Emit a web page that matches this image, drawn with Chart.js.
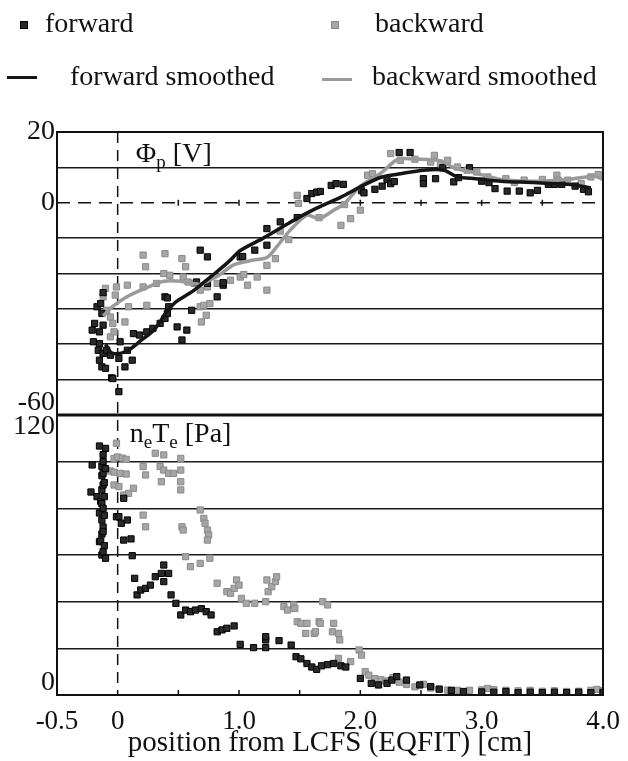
<!DOCTYPE html>
<html lang="en">
<head>
<meta charset="UTF-8">
<title>Plasma potential and pressure vs. position from LCFS</title>
<script src="https://cdn.jsdelivr.net/npm/chart.js"></script>
<style>
  body { margin: 0; background: #fff; font-family: "Liberation Serif", "Times New Roman", serif; color: #111; }
  #wrap { position: relative; width: 628px; height: 761px; }
  #chart { position: absolute; left: 0; top: 0; }
  .leg { position: absolute; font-size: 28px; line-height: 28px; white-space: nowrap; }
  .mark { position: absolute; }
</style>
</head>
<body>
<div id="wrap">
  <canvas id="chart" width="628" height="761"></canvas>
  <div id="legend"></div>
</div>
<script>
// x ticks and labelled y values
var xTicks = [-0.5, 0, 1, 2, 3, 4];
var phiLabels = [20, 0, -60];
var pLabels = [120, 0];

// plasma potential Phi_p [V] vs position [cm]
var phiForward = [
  [-0.21,-36],[-0.20,-39.3],[-0.19,-34.1],[-0.17,-29.4],[-0.16,-41.7],[-0.15,-36.5],[-0.15,-39.8],
  [-0.15,-44.5],[-0.14,-28.5],[-0.13,-31.3],[-0.13,-46.4],[-0.12,-25.4],[-0.12,-34.6],[-0.12,-42.6],
  [-0.10,-46.8],[-0.09,-41.7],[-0.06,-43.1],[-0.05,-49.5],[-0.04,-49.7],[0.01,-53.4],[0.01,-44],
  [0.02,-39.3],[0.06,-46.4],[0.08,-41.7],[0.12,-44.5],[0.13,-37],[0.18,-37.4],[0.24,-36.5],
  [0.29,-35.5],[0.35,-34.1],[0.39,-32.7],[0.41,-31.3],[0.42,-29.4],[0.39,-26.6],[0.41,-26.9],
  [0.49,-35.1],[0.53,-38.8],[0.57,-36],[0.61,-30.4],[0.65,-22.4],[0.68,-13.4],[0.74,-15.3],
  [0.74,-22.8],[0.82,-26.6],[0.87,-23.3],[0.87,-22.6],[1.01,-15.3],[1.03,-15.2],[1.13,-13.4],
  [1.23,-7.3],[1.23,-12],[1.34,-5.4],[1.48,-4.2],[1.56,1.2],[1.60,2.6],[1.64,3.0],[1.67,3.2],
  [1.76,4.9],[1.80,5.4],[1.86,5.2],[2.01,3.4],[2.03,2.8],[2.12,3.8],[2.18,4.7],[2.22,6.6],
  [2.25,5.4],[2.28,6.0],[2.32,14.2],[2.41,14.2],[2.52,6.8],[2.52,5.4],[2.62,6.8],[2.68,9.9],
  [2.77,5.9],[2.81,7.1],[2.90,9.9],[3.00,6.1],[3.06,5.7],[3.11,4.0],[3.21,3.3],[3.31,3.3],
  [3.40,2.8],[3.46,3.5],[3.55,5.2],[3.60,5.2],[3.66,5.2],[3.77,4.7],[3.84,3.8],[3.88,3.1]
];
var phiBackward = [
  [-0.12,-26.6],[-0.10,-24.2],[-0.10,-41.7],[-0.09,-30.4],[-0.09,-42.6],[-0.06,-32.3],[-0.06,-37.9],
  [-0.04,-34.1],[-0.03,-36.5],[-0.02,-26.1],[-0.01,-23.8],[0.06,-33.7],[0.08,-23.3],[0.09,-29.4],
  [0.21,-14.8],[0.23,-18.1],[0.21,-23.8],[0.24,-29],[0.32,-22.8],[0.38,-20],[0.39,-14.4],
  [0.43,-20.5],[0.53,-15.8],[0.54,-21],[0.56,-18.1],[0.58,-22.4],[0.63,-22.8],[0.68,-24.7],
  [0.68,-29.4],[0.69,-33.7],[0.71,-29],[0.73,-31.8],[0.74,-23.8],[0.76,-28.5],[0.82,-22.8],
  [0.93,-21.9],[1.01,-21],[1.04,-20.3],[1.07,-23.3],[1.15,-21],[1.23,-24.7],[1.23,-17.7],
  [1.30,-15.8],[1.34,-8],[1.41,-10.4],[1.48,2.1],[1.49,-0.2],[1.66,-4.2],[1.84,-6.4],
  [1.87,-0.5],[1.92,-4.5],[2.00,-2.1],[2.06,7.8],[2.10,8.2],[2.25,13.9],[2.33,12],[2.45,12.3],
  [2.58,11.5],[2.61,13.4],[2.66,11],[2.72,12],[2.80,10.1],[2.88,9.2],[2.96,8.7],[3.05,7.3],
  [3.20,6.8],[3.27,5.7],[3.35,6.4],[3.50,6.6],[3.62,7.8],[3.63,6.4],[3.71,6.4],[3.82,5.4],
  [3.90,7.3],[3.96,8.0]
];
var phiForwardSmooth = [
  [-0.10,-40],[-0.05,-42.5],[0.03,-42.5],[0.10,-41.5],[0.19,-39],[0.30,-36],[0.40,-31],
  [0.48,-28],[0.62,-25],[0.80,-20],[0.92,-16.5],[1.01,-13.5],[1.20,-10],[1.37,-6.6],[1.50,-4],
  [1.64,-1.5],[1.84,1.6],[2.00,4.5],[2.17,7.2],[2.33,8.2],[2.52,9.2],[2.69,9.2],[2.80,7.3],
  [2.95,6.8],[3.16,6.1],[3.43,5.7],[3.71,5.2],[3.90,4.2]
];
var phiBackwardSmooth = [
  [-0.12,-32],[-0.04,-29.3],[0.08,-26.5],[0.24,-24],[0.38,-22.2],[0.52,-22.2],[0.68,-23],
  [0.82,-20.8],[0.96,-17.5],[1.12,-16.2],[1.23,-15.5],[1.31,-12.5],[1.42,-7.8],[1.56,-3.5],
  [1.66,-4.5],[1.78,-2.1],[1.87,-0.2],[2.00,4.7],[2.17,8.4],[2.31,12.3],[2.47,12.3],
  [2.67,11.8],[2.77,9.9],[2.94,8.5],[3.16,6.6],[3.43,6.1],[3.71,6.6],[3.93,7.5],[4.00,6.6]
];

// pressure n_e T_e [Pa] vs position [cm]
var pForward = [
  [-0.22,87],[-0.21,98.6],[-0.17,85],[-0.15,106.7],[-0.15,78],[-0.15,65.7],[-0.14,83],[-0.14,66],
  [-0.13,98],[-0.13,94],[-0.13,88],[-0.13,82],[-0.13,75],[-0.13,69],[-0.13,60],[-0.12,103],
  [-0.12,100],[-0.12,95],[-0.12,90],[-0.12,80],[-0.12,72],[-0.12,70],[-0.12,61.4],[-0.11,91],
  [-0.11,85],[-0.11,77],[-0.11,64],[-0.10,105.7],[-0.10,97],[-0.10,58.6],
  [-0.01,76.4],[0.01,76.4],[0.03,73.6],[0.05,84.3],[0.05,66.4],[0.08,75],[0.11,66.9],[0.12,59.7],
  [0.14,50],[0.16,42.9],[0.19,45],[0.23,45.7],[0.27,47.1],[0.31,50.7],[0.36,52.1],[0.38,55.7],
  [0.38,48.6],[0.42,52.1],[0.44,42.9],[0.48,39.3],[0.52,34.3],[0.56,36.4],[0.60,35.7],[0.64,36.4],
  [0.69,37],[0.73,35.7],[0.77,34.3],[0.82,27.1],[0.86,27.9],[0.90,28.6],[0.96,29.6],[1.01,21.7],
  [1.12,20.3],[1.22,20.3],[1.22,23.6],[1.22,25],[1.33,23.3],[1.43,21.4],[1.47,16.4],[1.51,15.5],
  [1.56,13.5],[1.60,12],[1.64,11],[1.68,12.5],[1.73,13],[1.78,13.5],[1.84,12.5],[1.88,12],
  [2.00,7.1],[2.09,5],[2.15,4.3],[2.22,5],[2.26,6.4],[2.30,7.9],[2.38,6.4],[2.49,4.3],[2.58,3.6],
  [2.65,2.5],[2.75,2],[2.85,1.5],[3.00,1.3],[3.10,1.2],[3.20,1.5],[3.30,1],[3.40,1.2],[3.50,1],
  [3.60,1.2],[3.70,1],[3.80,1.2],[3.90,1],[4.00,1.1]
];
var pBackward = [
  [-0.06,96],[-0.03,101.4],[-0.03,95.5],[-0.03,90],[-0.01,107.9],[0.00,102],[0.01,89.3],[0.02,95],
  [0.04,101.5],[0.05,85.7],[0.07,101],[0.07,94.7],[0.09,86.4],[0.13,88.6],[0.21,97.9],[0.21,77.1],
  [0.23,94.3],[0.23,72.1],[0.31,103.6],[0.35,97.9],[0.36,91.4],[0.38,102.9],[0.38,96.4],[0.42,95],
  [0.46,95],[0.52,101.4],[0.52,96.4],[0.52,91.4],[0.52,87.9],[0.53,72.1],[0.54,70.7],[0.56,59.3],
  [0.60,55],[0.68,79.3],[0.68,56.4],[0.71,75.7],[0.72,73.6],[0.74,70.7],[0.75,68.6],[0.74,66.4],
  [0.76,58.6],[0.82,47.9],[0.90,44.3],[0.93,43.6],[0.96,45.7],[0.98,49.3],[1.00,47.1],[1.02,41.4],
  [1.06,39.3],[1.13,39.3],[1.22,40],[1.23,49.3],[1.24,44.3],[1.27,46.4],[1.30,48.6],[1.31,50.7],
  [1.37,37.9],[1.40,36.4],[1.45,38.6],[1.46,37.1],[1.48,31.4],[1.51,30.7],[1.55,26.4],[1.56,30.7],
  [1.62,26.4],[1.63,27.1],[1.66,31.4],[1.67,30.7],[1.69,40],[1.73,38.6],[1.77,27.1],[1.78,30.7],
  [1.82,26.4],[1.83,23.6],[1.82,15.7],[1.92,14.3],[1.99,19.3],[2.01,17.1],[2.04,10],[2.07,8.5],
  [2.12,7],[2.17,6.5],[2.21,6],[2.27,7.5],[2.32,5.5],[2.38,4.5],[2.45,3.5],[2.52,4.6],[2.58,3],
  [2.65,2.5],[2.72,2.1],[2.80,2],[2.90,2],[3.00,2.2],[3.05,2.8],[3.10,2.3],[3.20,2],[3.30,1.8],
  [3.40,2],[3.50,1.6],[3.60,1.8],[3.70,1.5],[3.80,1.6],[3.90,2],[3.95,2.4],[4.00,1.8]
];

var FONT = '"Liberation Serif", "Times New Roman", serif';
var DARK = '#2a2a2a';
var GREY = '#a6a6a6';

function pts(list) {
  return list.map(function (p) { return { x: p[0], y: p[1] }; });
}

function scatterSet(label, list, axis, fill, edge) {
  return {
    type: 'scatter', label: label, data: pts(list), yAxisID: axis,
    pointStyle: 'rect', pointRadius: 4.4, pointHoverRadius: 4.4,
    backgroundColor: fill, borderColor: edge, borderWidth: 1
  };
}

function lineSet(label, list, axis, color) {
  return {
    type: 'line', label: label, data: pts(list), yAxisID: axis,
    borderColor: color, backgroundColor: color, borderWidth: 3.5,
    pointRadius: 0, tension: 0.25, fill: false
  };
}

// dashed zero lines, small ticks, frame, y labels and panel titles
var panelDecor = {
  id: 'panelDecor',
  beforeDatasetsDraw: function (chart) {
    var ctx = chart.ctx, a = chart.chartArea, s = chart.scales;
    var y0 = s.yPhi.getPixelForValue(0);
    var x0 = s.x.getPixelForValue(0);
    ctx.save();
    ctx.strokeStyle = '#111';
    ctx.lineWidth = 1.5;
    ctx.setLineDash([13, 8]);
    ctx.beginPath(); ctx.moveTo(a.left, y0); ctx.lineTo(a.right, y0); ctx.stroke();
    ctx.setLineDash([11, 7]);
    ctx.beginPath(); ctx.moveTo(x0, a.top); ctx.lineTo(x0, a.bottom); ctx.stroke();
    ctx.setLineDash([]);
    for (var v = 0.5; v < 4; v += 0.5) {
      var px = s.x.getPixelForValue(v);
      ctx.beginPath();
      ctx.moveTo(px, y0 - 3); ctx.lineTo(px, y0 + 3);
      ctx.moveTo(px, a.bottom); ctx.lineTo(px, a.bottom - 5);
      ctx.stroke();
    }
    ctx.restore();
  },
  afterDatasetsDraw: function (chart) {
    var ctx = chart.ctx, a = chart.chartArea, s = chart.scales;
    ctx.save();
    ctx.strokeStyle = '#111';
    ctx.lineWidth = 2;
    ctx.strokeRect(a.left, a.top, a.right - a.left, a.bottom - a.top);
    ctx.lineWidth = 3;
    ctx.beginPath(); ctx.moveTo(a.left, s.yPhi.bottom); ctx.lineTo(a.right, s.yPhi.bottom); ctx.stroke();

    // y labels, end labels pulled inside their panel
    ctx.fillStyle = '#111';
    ctx.font = '28px ' + FONT;
    ctx.textAlign = 'right';
    ctx.textBaseline = 'middle';
    function label(scale, v, isTopPanel) {
      var py = scale.getPixelForValue(v);
      if (Math.abs(py - scale.bottom) < 1) py -= 12;
      else if (Math.abs(py - scale.top) < 1 && !isTopPanel) py += 12;
      ctx.fillText(String(v), a.left - 2, py);
    }
    phiLabels.forEach(function (v) { label(s.yPhi, v, true); });
    pLabels.forEach(function (v) { label(s.yN, v, false); });

    // panel titles with subscripts
    ctx.textAlign = 'left';
    ctx.textBaseline = 'alphabetic';
    function write(parts, x, y) {
      parts.forEach(function (p) {
        ctx.font = (p[1] ? '19px ' : '28px ') + FONT;
        ctx.fillText(p[0], x, y + (p[1] ? 6 : 0));
        x += ctx.measureText(p[0]).width;
      });
    }
    write([['\u03A6', 0], ['p', 1], [' [V]', 0]], s.x.getPixelForValue(0.15), s.yPhi.top + 30);
    write([['n', 0], ['e', 1], ['T', 0], ['e', 1], [' [Pa]', 0]], s.x.getPixelForValue(0.10), s.yN.top + 27);
    ctx.restore();
  }
};

var datasets = [
  lineSet('forward smoothed', phiForwardSmooth, 'yPhi', '#151515'),
  lineSet('backward smoothed', phiBackwardSmooth, 'yPhi', '#9a9a9a'),
  scatterSet('forward', phiForward, 'yPhi', DARK, '#000'),
  scatterSet('backward', phiBackward, 'yPhi', GREY, '#8a8a8a'),
  scatterSet('forward', pForward, 'yN', DARK, '#000'),
  scatterSet('backward', pBackward, 'yN', GREY, '#8a8a8a')
];

var gridColor = function (c) {
  var sc = c.scale, v = c.tick.value;
  if (v === sc.min || v === sc.max) return 'transparent';
  if (sc.id === 'yPhi' && v === 0) return 'transparent';
  return '#1a1a1a';
};

var chart = new Chart(document.getElementById('chart'), {
  type: 'scatter',
  data: { datasets: datasets },
  options: {
    responsive: false,
    animation: false,
    layout: { padding: { top: 132, right: 25, left: 0, bottom: 0 } },
    plugins: { legend: { display: false }, tooltip: { enabled: false } },
    scales: {
      x: {
        type: 'linear', min: -0.5, max: 4,
        afterBuildTicks: function (sc) { sc.ticks = xTicks.map(function (v) { return { value: v }; }); },
        afterFit: function (sc) { sc.height = 66; },
        grid: { display: false },
        border: { display: false },
        ticks: {
          color: '#111', padding: 3, maxRotation: 0, autoSkip: false,
          font: { family: FONT, size: 27 },
          callback: function (v) { return v === 0 ? '0' : v.toFixed(1); }
        },
        title: {
          display: true, text: 'position from LCFS (EQFIT) [cm]', color: '#111',
          font: { family: FONT, size: 29 }, padding: { top: 0, bottom: 0 }
        }
      },
      yN: {
        type: 'linear', position: 'left', stack: 'panels', stackWeight: 280,
        min: 0, max: 120,
        afterFit: function (sc) { sc.width = 57; },
        ticks: { stepSize: 20, display: false },
        grid: { color: gridColor, lineWidth: 1.6, drawTicks: false },
        border: { display: false }
      },
      yPhi: {
        type: 'linear', position: 'left', stack: 'panels', stackWeight: 283,
        min: -60, max: 20,
        afterFit: function (sc) { sc.width = 57; },
        ticks: { stepSize: 10, display: false },
        grid: { color: gridColor, lineWidth: 1.6, drawTicks: false },
        border: { display: false }
      }
    }
  },
  plugins: [panelDecor]
});

// legend from the potential-panel datasets, laid out in a 2 x 2 grid
var legendSpots = {
  'forward':           { mark: 'box',  mx: 20,  my: 21, tx: 45,  ty: 9 },
  'backward':          { mark: 'box',  mx: 331, my: 21, tx: 375, ty: 9 },
  'forward smoothed':  { mark: 'line', mx: 7,   my: 76, tx: 70,  ty: 62 },
  'backward smoothed': { mark: 'line', mx: 322, my: 78, tx: 372, ty: 62 }
};
var legend = document.getElementById('legend');
chart.data.datasets.slice(0, 4).forEach(function (ds) {
  var spot = legendSpots[ds.label];
  var m = document.createElement('div');
  m.className = 'mark';
  m.style.left = spot.mx + 'px';
  m.style.top = spot.my + 'px';
  if (spot.mark === 'box') {
    m.style.width = '6px'; m.style.height = '6px';
    m.style.background = ds.backgroundColor;
    m.style.border = '1px solid ' + ds.borderColor;
  } else {
    m.style.width = '30px'; m.style.height = '3px';
    m.style.background = ds.borderColor;
  }
  legend.appendChild(m);
  var t = document.createElement('div');
  t.className = 'leg';
  t.style.left = spot.tx + 'px';
  t.style.top = spot.ty + 'px';
  t.textContent = ds.label;
  legend.appendChild(t);
});
</script>
</body>
</html>
